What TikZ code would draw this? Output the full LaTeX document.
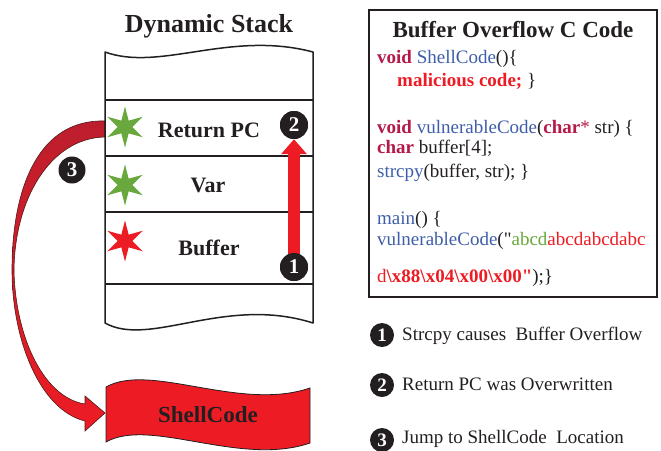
\documentclass[tikz,border=0pt]{standalone}
\usepackage{fontspec}
\setmainfont{Liberation Serif}[Ligatures=TeXOff]
\usetikzlibrary{arrows.meta,shapes.geometric}

\definecolor{ink}{RGB}{35,31,32}
\definecolor{hotred}{RGB}{237,28,36}
\definecolor{deepred}{RGB}{188,30,45}
\definecolor{kwcol}{RGB}{180,25,72}
\definecolor{fncol}{RGB}{62,94,170}
\definecolor{leaf}{RGB}{104,168,60}

\newcommand\kwd[1]{\textcolor{kwcol}{\bfseries #1}}
\newcommand\fnm[1]{\textcolor{fncol}{#1}}

\begin{document}
\begin{tikzpicture}[x=1pt,y=-1pt,
  outline/.style={draw=ink,line width=1.5pt},
  celltext/.style={font=\bfseries\fontsize{22}{22}\selectfont,text=ink,anchor=base},
  codeline/.style={font=\fontsize{19}{22}\selectfont,text=ink,anchor=base west,inner sep=0pt},
  legendtext/.style={font=\fontsize{19}{22}\selectfont,text=ink,anchor=base west,inner sep=0pt},
  numdot/.style={circle,fill=ink,text=white,inner sep=0pt,minimum size=28pt,
    font=\bfseries\fontsize{21}{21}\selectfont},
  smalldot/.style={numdot,minimum size=24pt,font=\bfseries\fontsize{19}{19}\selectfont},
  sixstar/.style={star,star points=6,star point ratio=2.8,minimum size=41pt,
    inner sep=0pt,fill=#1},
  crescent/.style={draw=ink!80!red,line width=0.6pt,top color=deepred,bottom color=hotred},
  banner/.style={fill=hotred,draw=ink,line width=0.8pt},
  overflow/.style={draw=hotred,line width=12pt,-{Triangle[width=25pt,length=15pt]}}
]
\useasboundingbox (0,0) rectangle (661,450);

% ---- dynamic stack ----
\node[font=\bfseries\fontsize{26}{26}\selectfont,text=ink,anchor=base] (stacktitle) at (209,32) {Dynamic Stack};

% jump arrow from the return address down to the shell code
\path[crescent] (105,121) .. controls (40,119) and (12,185) .. (12,270)
  .. controls (12,340) and (40,410) .. (85,421) -- (85,431) -- (105,413) -- (85,396) -- (85,404)
  .. controls (45,398) and (16,340) .. (14,272)
  .. controls (14,200) and (50,138) .. (105,137) -- cycle;

\draw[outline,line join=round] (105,52) -- (105,323)
  .. controls (150,348) and (225,295) .. (313,323) -- (313,52)
  .. controls (230,30) and (160,72) .. (105,52) -- cycle;
\draw[outline] (105,100) -- (313,100);
\draw[outline] (105,156) -- (313,156);
\draw[outline] (105,212) -- (313,212);
\draw[outline] (105,284) -- (313,284);

\node[celltext] (retpc) at (209,137) {Return PC};
\node[celltext] (var) at (208,192) {Var};
\node[celltext] (buf) at (209,255) {Buffer};

\node[sixstar=leaf] (s1) at (125,127) {};
\node[sixstar=leaf] (s2) at (125,185) {};
\node[sixstar=hotred] (s3) at (125,241) {};

% overflow arrow and step markers
\node[numdot] (c1) at (294,267) {};
\node[numdot] (c2) at (294,125) {};
\draw[overflow] (c1.center) -- (c2.south);
\node[numdot] at (c1) {1};
\node[numdot] at (c2) {2};
\node[numdot,minimum size=27pt] (c3) at (72,170) {3};

% shell code banner
\filldraw[banner] (106,387) .. controls (150,362) and (240,412) .. (310,388) -- (310,443)
  .. controls (240,467) and (150,417) .. (106,442) -- cycle;
\node[celltext,font=\bfseries\fontsize{23}{23}\selectfont] (shell) at (208,422) {ShellCode};

% ---- code listing ----
\draw[outline] (369,10) rectangle (657,297);
\node[font=\bfseries\fontsize{23}{23}\selectfont,text=ink,anchor=base] (codetitle) at (513,37) {Buffer Overflow C Code};
\node[codeline] (l1) at (377,63) {\kwd{void} \fnm{ShellCode}()\{};
\node[codeline] (l2) at (397,86) {\textcolor{hotred}{\bfseries malicious code;} \}};
\node[codeline] (l3) at (377,133) {\kwd{void} \fnm{vulnerableCode}(\kwd{char}\textcolor{kwcol}{*} str) \{};
\node[codeline] (l4) at (377,153) {\kwd{char} buffer[4];};
\node[codeline] (l5) at (377,177) {\fnm{strcpy}(buffer, str); \}};
\node[codeline] (l6) at (377,224) {\fnm{main}() \{};
\node[codeline] (l7) at (377,245) {\fnm{vulnerableCode}("\textcolor{leaf}{abcd}\textcolor{hotred}{abcdabcdabc}};
\node[codeline] (l8) at (377,282) {\textcolor{hotred}{d{\bfseries\textbackslash x88\textbackslash x04\textbackslash x00\textbackslash x00"}});\}};

% ---- legend ----
\node[smalldot] (k1) at (382,335) {1};
\node[smalldot] (k2) at (382,385) {2};
\node[smalldot] (k3) at (382,440) {3};
\node[legendtext] (t1) at (402,340) {Strcpy causes~ Buffer Overflow};
\node[legendtext] (t2) at (402,390) {Return PC was Overwritten};
\node[legendtext] (t3) at (402,443) {Jump to ShellCode~ Location};
\end{tikzpicture}
\end{document}
